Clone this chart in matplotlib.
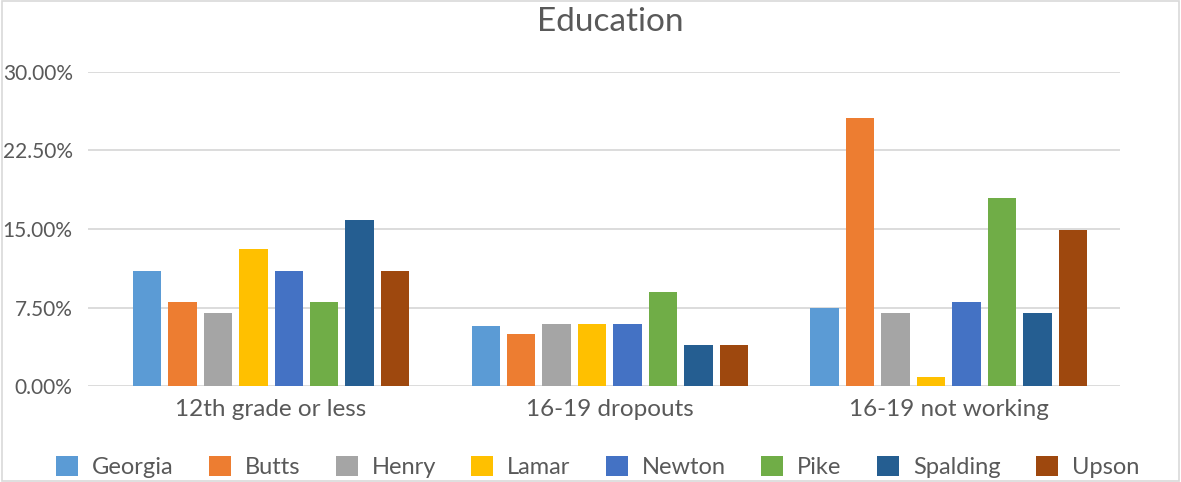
import numpy as np
import matplotlib
matplotlib.use("Agg")
import matplotlib.pyplot as plt
from matplotlib.patches import Rectangle
from matplotlib.ticker import FuncFormatter

plt.rcParams['font.family'] = ['Lato', 'DejaVu Sans']

categories = ["12th grade or less", "16-19 dropouts", "16-19 not working"]
counties = ["Georgia", "Butts", "Henry", "Lamar", "Newton", "Pike", "Spalding", "Upson"]
georgia = [11.0, 5.7, 7.5]
butts = [8.0, 5.0, 25.6]
henry = [7.0, 5.9, 7.0]
lamar = [13.1, 5.9, 0.9]
newton = [11.0, 5.9, 8.0]
pike = [8.0, 9.0, 18.0]
spalding = [15.9, 3.9, 7.0]
upson = [11.0, 3.9, 14.9]
series = [georgia, butts, henry, lamar, newton, pike, spalding, upson]
colors = ["#5B9BD5", "#ED7D31", "#A5A5A5", "#FFC000",
          "#4472C4", "#70AD47", "#255E91", "#9E480E"]

text_col = "#595959"

fig = plt.figure(figsize=(11.81, 4.82), dpi=100)
ax = fig.add_axes([88 / 1181, 96 / 482, 1032 / 1181, 314 / 482])

x = np.arange(len(categories))
pitch = 0.1047
width = 0.084
for i, (name, vals, c) in enumerate(zip(counties, series, colors)):
    offs = (i - 3.5) * pitch
    ax.bar(x + offs, np.array(vals) / 100, width, color=c, label=name, zorder=3)

ax.set_xlim(-0.54, 2.505)
ax.set_ylim(0, 0.30)
ax.set_yticks([0, 0.075, 0.15, 0.225, 0.30])
ax.yaxis.set_major_formatter(FuncFormatter(lambda v, p: f"{v * 100:.2f}%"))
ax.set_xticks(x)
ax.set_xticklabels(categories)
ax.grid(axis='y', color="#D9D9D9", linewidth=1.3, zorder=0)
for s in ax.spines.values():
    s.set_visible(False)
ax.tick_params(axis='both', length=0, colors=text_col)
ax.tick_params(axis='y', pad=11, labelsize=15)
ax.tick_params(axis='x', pad=9, labelsize=17.5)

fig.text(610 / 1181, 1 - 22 / 482, "Education", ha='center', va='center',
         fontsize=24, color=text_col)

fig.legend(loc='center', bbox_to_anchor=(0.506, 1 - 467 / 482), ncol=8,
           frameon=False, fontsize=17, handlelength=0.93, handleheight=0.89,
           columnspacing=1.5, handletextpad=0.59, labelcolor=text_col)

fig.patches.append(Rectangle((0.002, 0.002), 0.996, 0.996, transform=fig.transFigure,
                             fill=False, edgecolor="#D9D9D9", linewidth=1.2))

fig.savefig("out.png", dpi=100)
